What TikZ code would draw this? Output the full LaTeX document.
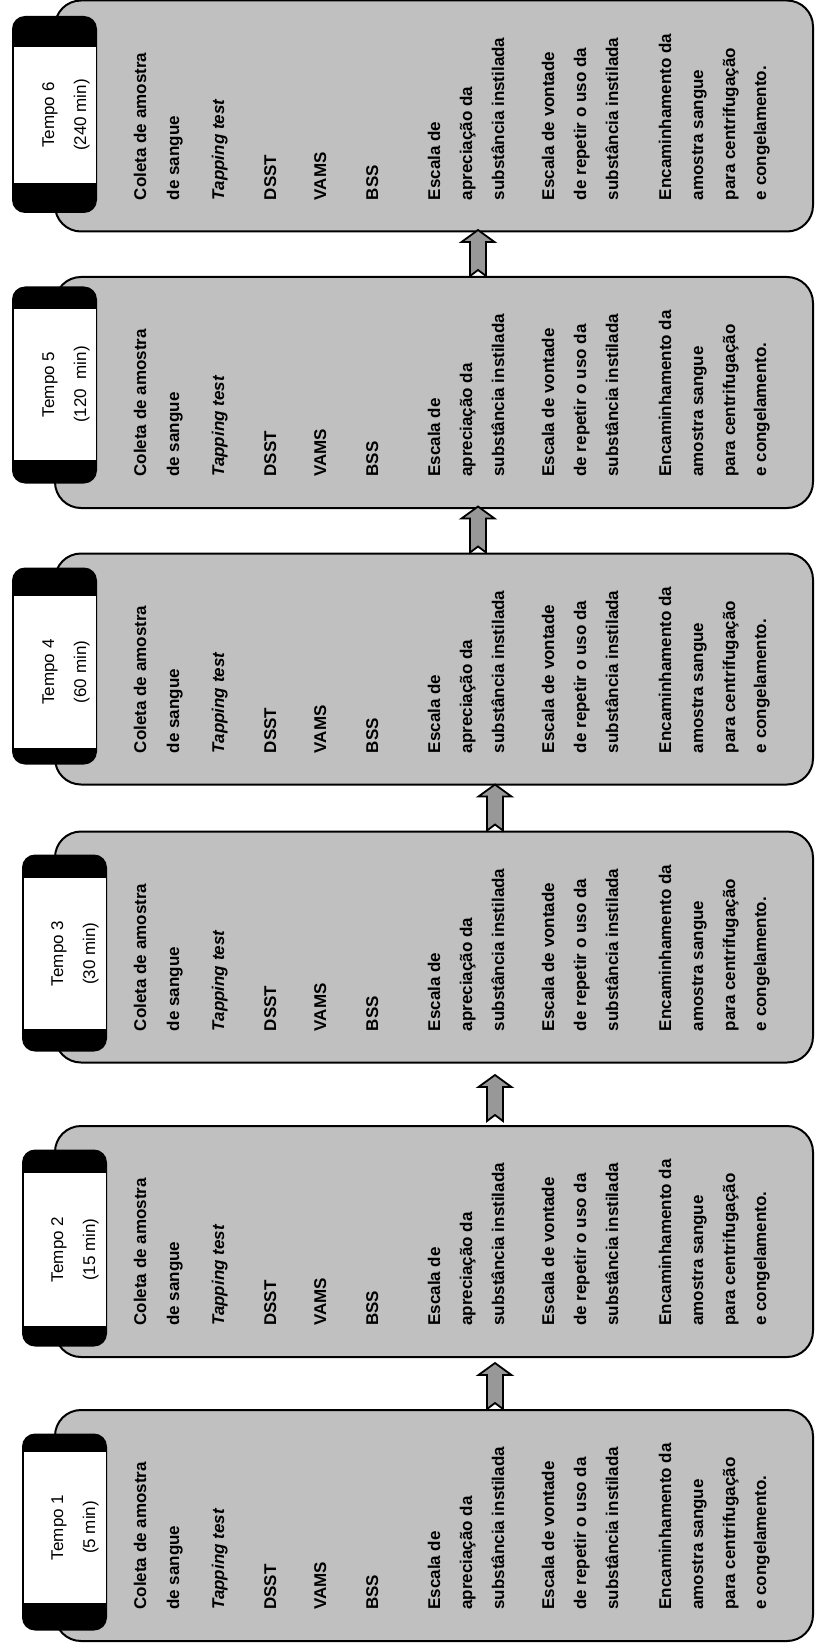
\documentclass[tikz,border=0pt]{standalone}
\usepackage{fontspec}
\setmainfont{Liberation Sans}
\usepackage{tikz}
\usetikzlibrary{positioning,calc}
\definecolor{boxgray}{RGB}{192,192,192}
\definecolor{arrowgray}{RGB}{152,152,152}
\newcommand\boxfont{\fontsize{8.5}{16}\selectfont}
\tikzset{
  stagebox/.style={draw,line width=1pt,fill=boxgray,rounded corners=13pt,
    minimum width=379pt,minimum height=115.5pt,inner sep=0pt},
  headbox/.style={fill=black,rounded corners=6.5pt,minimum width=42.5pt,
    minimum height=98.5pt,inner sep=0pt},
  headtext/.style={rotate=90,align=center,inner sep=0pt,font=\boxfont},
  itemtext/.style={rotate=90,anchor=base west,inner sep=0pt,font=\boxfont\bfseries},
  flowarrow/.style={draw,line width=0.9pt,fill=arrowgray,line join=miter}
}

\begin{document}
\begin{tikzpicture}[x=0.5pt,y=-0.5pt]
  \useasboundingbox (0,0) rectangle (815,1647);
  % stages, one box per tempo
  \foreach \i/\cy/\hx/\hy/\wt/\wb/\tx/\tm in
    {6/116/54.5/114.5/47/183/66/{(240 min)},
     5/392.5/54.5/385/309/460/66/{(120\ \ min)},
     4/669/54.5/666/596/748/66/{(60 min)},
     3/947/64.5/953/878/1029/75/{(30 min)},
     2/1241.5/64.5/1248/1173/1326/75/{(15 min)},
     1/1525.5/64.5/1532/1452/1603/75/{(5 min)}} {
    \node[stagebox] (box\i) at (434,\cy) {};
    \node[headbox] (head\i) at (\hx,\hy) {};
    \fill[white] (\hx-41,\wt) rectangle (\hx+41,\wb);
    \node[headtext] (tempo\i) at (\tx,{(\wt+\wb)/2}) {Tempo \i\\\tm};
    \foreach \x/\t in
      {146/{Coleta de amostra},
       179/{de sangue},
       224/{\textit{Tapping test}},
       276/{DSST},
       326/{VAMS},
       378/{BSS},
       440/{Escala de},
       472/{apreciação da},
       504/{substância instilada},
       554/{Escala de vontade},
       586/{de repetir o uso da},
       618/{substância instilada},
       671/{Encaminhamento da},
       703/{amostra sangue},
       735/{para centrifugação},
       766/{e congelamento.}} {
      \node[itemtext] (item\i-\x) at (\x,\cy+84.5) {\t};
    }
  }
  % block arrows between the stages
  \foreach \i/\dx/\dy in {1/61/0, 2/61/4, 3/61/0, 4/44/0, 5/44/0} {
    \draw[flowarrow] ($(box\i.north)+(\dx-8,-\dy)$) -- ++(0,-34) -- ++(-8.5,0)
      -- ++(16.5,-12) -- ++(16.5,12) -- ++(-8.5,0) -- ++(0,34) -- ++(-8,-6) -- cycle;
  }
\end{tikzpicture}
\end{document}
